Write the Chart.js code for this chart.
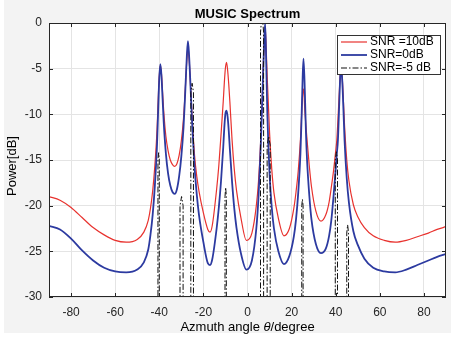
<!DOCTYPE html>
<html lang="en">
<head>
<meta charset="UTF-8">
<title>MUSIC Spectrum</title>
<script src="https://cdn.jsdelivr.net/npm/chart.js"></script>
<style>
  body { margin: 0; background: #fff; }
  #wrap { width: 473px; height: 337px; }
</style>
</head>
<body>
<div id="wrap"><canvas id="music" width="473" height="337"></canvas></div>
<script>
// angle grid (degrees) shared by the two smooth spectra
const angles = [-90, -85, -80, -75, -70, -65, -60, -55, -50, -47, -45, -44, -43, -42, -41, -40.5, -40, -39.5, -39, -38.5,
  -38, -37, -36, -35, -34, -33, -32, -31, -30, -29, -28.5, -28, -27.5, -27, -26.5, -26, -25, -24, -23, -22,
  -20, -18, -17, -16, -14, -13, -12, -11, -10.5, -10, -9.5, -9, -8.5, -8, -7, -6, -5, -3, -0.5, 2,
  4, 5, 6, 6.5, 7, 7.5, 8, 8.5, 9, 10, 11, 12, 14, 16.5, 19, 21, 22, 23, 24, 24.5,
  25, 25.4, 26, 26.5, 27, 28, 29, 31, 33.3, 35.5, 37, 38, 39, 40, 40.5, 41, 41.5, 42, 42.4, 43,
  43.5, 44, 45, 46, 48, 50, 53, 57, 62, 67, 72, 77, 82, 86, 90];

// SNR = 10 dB (red)
const snr10 = [-19.0, -19.4, -20.2, -21.3, -22.4, -23.2, -23.8, -24.0, -23.7, -22.9, -21.6, -20.3, -18.4, -15.6, -11.6, -8.5, -5.8, -4.6, -5.6, -7.6,
  -9.6, -12.4, -14.0, -15.0, -15.5, -15.7, -15.4, -14.5, -12.9, -10.4, -8.5, -6.3, -4.0, -2.6, -3.8, -6.0, -10.8, -14.5, -16.8, -18.4,
  -20.8, -22.6, -22.9, -22.2, -18.2, -15.6, -12.2, -8.6, -6.5, -4.9, -4.3, -5.2, -6.7, -8.6, -12.8, -16.0, -18.3, -21.3, -23.8, -23.0,
  -20.0, -17.3, -12.8, -9.6, -5.8, -2.4, -0.4, -3.0, -6.3, -12.0, -16.0, -18.6, -21.4, -23.3, -22.5, -20.3, -18.5, -16.2, -12.8, -10.3,
  -7.8, -7.2, -9.6, -11.3, -12.8, -15.6, -17.9, -20.6, -21.7, -21.0, -19.6, -18.0, -16.2, -14.0, -12.8, -10.6, -8.2, -5.9, -4.8, -6.2,
  -8.6, -11.2, -15.0, -17.3, -19.9, -21.2, -22.4, -23.3, -23.8, -24.0, -23.8, -23.4, -23.0, -22.6, -22.3];

// SNR = 0 dB (blue)
const snr0 = [-22.2, -22.6, -23.6, -24.9, -26.0, -26.8, -27.2, -27.3, -27.0, -26.2, -24.8, -23.2, -21.0, -17.8, -13.2, -9.5, -6.0, -4.5, -5.8, -8.3,
  -10.8, -14.3, -16.5, -17.8, -18.5, -18.7, -18.2, -16.8, -14.6, -11.4, -9.0, -6.3, -3.6, -2.0, -3.5, -6.0, -11.5, -15.8, -18.8, -21.0,
  -24.0, -26.3, -26.5, -25.9, -22.5, -20.2, -17.3, -13.6, -11.4, -9.9, -9.6, -10.3, -11.8, -13.8, -17.4, -20.3, -22.4, -25.2, -27.0, -26.0,
  -22.5, -19.0, -13.5, -10.0, -6.0, -2.5, 0.0, -4.5, -10.0, -16.5, -20.2, -22.5, -25.0, -26.4, -25.5, -23.4, -21.5, -18.6, -14.3, -10.5,
  -6.0, -3.9, -7.5, -12.0, -15.0, -18.8, -21.5, -24.2, -25.2, -24.7, -23.3, -21.6, -19.0, -16.0, -14.3, -12.8, -9.5, -6.0, -4.6, -6.5,
  -9.5, -12.8, -17.0, -19.7, -22.8, -24.3, -25.8, -26.8, -27.2, -27.3, -27.0, -26.5, -26.0, -25.6, -25.3];

// SNR = -5 dB (black dash-dot): below the floor except for narrow spikes
const spikeAngles = [-40.6, -40.6, -40.3, -40.0, -40.0,
  -30.6, -30.6, -29.9, -29.2, -29.2,
  -25.7, -25.7, -25.1, -24.5, -24.5,
  -10.2, -10.2, -9.9, -9.6, -9.6,
  5.9, 5.9, 6.6, 7.3, 7.3,
  8.9, 8.9, 9.6, 10.3, 10.3,
  24.6, 24.6, 24.9, 25.2, 25.2,
  39.8, 39.8, 40.3, 40.8, 40.8,
  45.0, 45.0, 45.4, 45.8, 45.8];
const spikePower = [-45, -15, -14.2, -15, -45,
  -45, -20, -19.0, -20, -45,
  -45, -7.6, -6.6, -7.6, -45,
  -45, -19, -18.0, -19, -45,
  -45, -1, 1, -1, -45,
  -45, -13.4, -12.4, -13.4, -45,
  -45, -20, -19.3, -20, -45,
  -45, -15, -14.1, -15, -45,
  -45, -23, -22.1, -23, -45];

const xTicks = [-80, -60, -40, -20, 0, 20, 40, 60, 80];
const yTicks = [-30, -25, -20, -15, -10, -5, 0];
const seriesNames = ['SNR =10dB', 'SNR=0dB', 'SNR=-5 dB'];

const FONT = "Arial, 'Liberation Sans', Helvetica, sans-serif";
const colors = ['#e8322e', '#2c3aa0', '#111111'];
const dashes = [[], [], [6, 2, 1.5, 2]];

function pts(xs, ys) {
  return xs.map((x, i) => ({ x: x, y: ys[i] }));
}

// background, axes box, inward ticks, legend and titles (MATLAB look)
const matlabFrame = {
  id: 'matlabFrame',
  beforeDraw(chart) {
    const { ctx, chartArea: a } = chart;
    ctx.save();
    ctx.fillStyle = '#f3f3f3';
    ctx.fillRect(4, 0, 447, 333);
    ctx.fillStyle = '#ffffff';
    ctx.fillRect(a.left, a.top, a.right - a.left, a.bottom - a.top);
    ctx.restore();
  },
  afterDatasetsDraw(chart) {
    const { ctx, chartArea: a, scales } = chart;
    ctx.save();
    ctx.strokeStyle = '#262626';
    ctx.lineWidth = 1;
    ctx.strokeRect(a.left + 0.5, a.top + 0.5, a.right - a.left - 1, a.bottom - a.top - 1);
    ctx.beginPath();
    xTicks.forEach(v => {
      const px = Math.round(scales.x.getPixelForValue(v)) + 0.5;
      ctx.moveTo(px, a.bottom); ctx.lineTo(px, a.bottom - 4);
      ctx.moveTo(px, a.top); ctx.lineTo(px, a.top + 4);
    });
    yTicks.forEach(v => {
      const py = Math.round(scales.y.getPixelForValue(v)) + 0.5;
      ctx.moveTo(a.left, py); ctx.lineTo(a.left + 4, py);
      ctx.moveTo(a.right, py); ctx.lineTo(a.right - 4, py);
    });
    ctx.stroke();

    // legend box inside the axes, top right
    const lx = 337, ly = 35, lw = 104, lh = 40;
    ctx.fillStyle = '#ffffff';
    ctx.fillRect(lx, ly, lw, lh);
    ctx.strokeStyle = '#333333';
    ctx.strokeRect(lx + 0.5, ly + 0.5, lw - 1, lh - 1);
    ctx.font = '12px ' + FONT;
    ctx.textBaseline = 'middle';
    ctx.textAlign = 'left';
    seriesNames.forEach((name, i) => {
      const y = ly + 7 + i * 13;
      ctx.strokeStyle = colors[i];
      ctx.lineWidth = i === 1 ? 1.8 : 1.2;
      ctx.setLineDash(dashes[i]);
      ctx.beginPath();
      ctx.moveTo(lx + 4, y); ctx.lineTo(lx + 30, y);
      ctx.stroke();
      ctx.setLineDash([]);
      ctx.fillStyle = '#000';
      ctx.fillText(name, lx + 33, y);
    });
    ctx.restore();
  },
  afterDraw(chart) {
    const { ctx, chartArea: a } = chart;
    const cx = (a.left + a.right) / 2;
    ctx.save();
    ctx.fillStyle = '#000';
    ctx.textBaseline = 'middle';
    ctx.textAlign = 'center';
    ctx.font = 'bold 13px ' + FONT;
    ctx.fillText('MUSIC Spectrum', cx, 14);

    // x title with italic theta
    const p1 = 'Azmuth angle ', p2 = '\u03b8', p3 = '/degree';
    ctx.font = '13px ' + FONT;
    const w1 = ctx.measureText(p1).width, w3 = ctx.measureText(p3).width;
    ctx.font = 'italic 13px ' + FONT;
    const w2 = ctx.measureText(p2).width;
    let x = cx - (w1 + w2 + w3) / 2;
    ctx.textAlign = 'left';
    ctx.font = '13px ' + FONT;
    ctx.fillText(p1, x, 327); x += w1;
    ctx.font = 'italic 13px ' + FONT;
    ctx.fillText(p2, x, 327); x += w2;
    ctx.font = '13px ' + FONT;
    ctx.fillText(p3, x, 327);

    // y title
    ctx.translate(12, 166);
    ctx.rotate(-Math.PI / 2);
    ctx.textAlign = 'center';
    ctx.fillText('Power[dB]', 0, 0);
    ctx.restore();
  }
};

const ctx = document.getElementById('music').getContext('2d');
const chart = new Chart(ctx, {
  type: 'line',
  data: {
    datasets: [
      {
        label: seriesNames[0],
        data: pts(angles, snr10),
        borderColor: colors[0],
        borderWidth: 1.2,
        cubicInterpolationMode: 'monotone',
        pointRadius: 0,
        order: 2
      },
      {
        label: seriesNames[1],
        data: pts(angles, snr0),
        borderColor: colors[1],
        borderWidth: 1.8,
        cubicInterpolationMode: 'monotone',
        pointRadius: 0,
        order: 1
      },
      {
        label: seriesNames[2],
        data: pts(spikeAngles, spikePower),
        borderColor: colors[2],
        borderWidth: 1,
        borderDash: dashes[2],
        tension: 0,
        pointRadius: 0,
        order: 0
      }
    ]
  },
  options: {
    responsive: false,
    animation: false,
    layout: { padding: { left: 0, right: 27, top: 23, bottom: 0 } },
    plugins: {
      legend: { display: false },
      title: { display: false },
      tooltip: { enabled: false }
    },
    scales: {
      x: {
        type: 'linear',
        min: -90,
        max: 90,
        afterFit(scale) { scale.height = 40; },
        afterBuildTicks(scale) { scale.ticks = xTicks.map(v => ({ value: v })); },
        grid: { color: '#e4e4e4', drawTicks: false },
        border: { display: false },
        ticks: { padding: 8, color: '#262626', font: { family: FONT, size: 12 } }
      },
      y: {
        min: -30,
        max: 0,
        afterFit(scale) { scale.width = 49; },
        afterBuildTicks(scale) { scale.ticks = yTicks.map(v => ({ value: v })); },
        grid: { color: '#e4e4e4', drawTicks: false },
        border: { display: false },
        ticks: { padding: 7, color: '#262626', font: { family: FONT, size: 12 } }
      }
    }
  },
  plugins: [matlabFrame]
});
</script>
</body>
</html>
